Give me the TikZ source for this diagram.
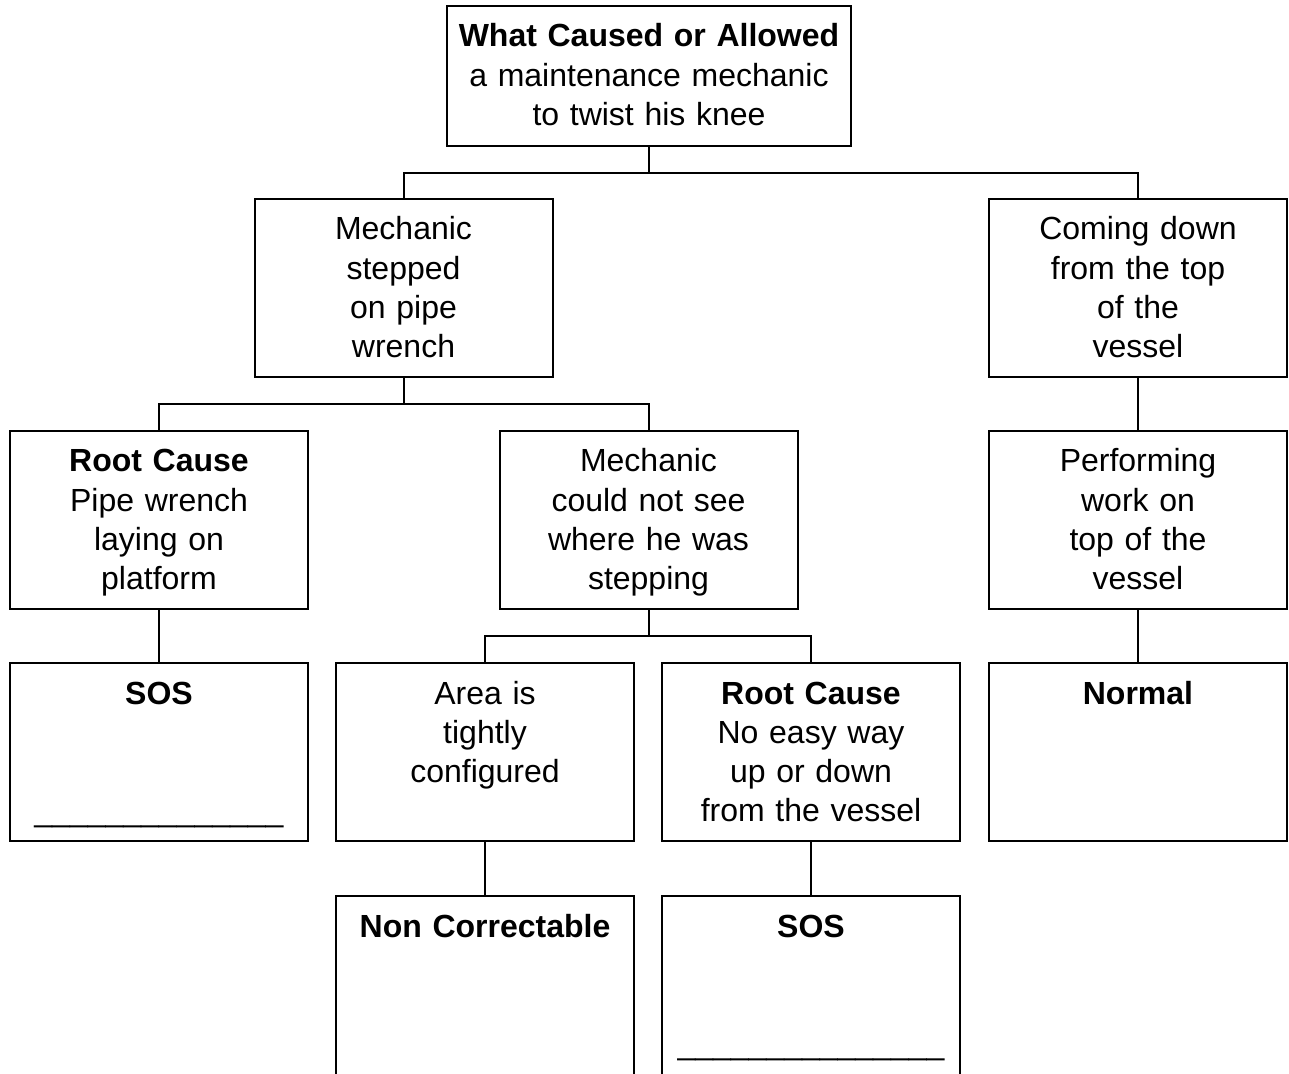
\documentclass[tikz,border=0pt]{standalone}
\usepackage{fontspec}
\setmainfont{Liberation Sans}
\usetikzlibrary{positioning}

\begin{document}
\begin{tikzpicture}[line width=1pt, font=\fontsize{16}{19.6}\selectfont]
    \tikzstyle{box}=[rectangle,draw,anchor=north,outer sep=0pt,inner xsep=4.5pt,inner ysep=6.8pt,text width=140pt,align=center,text height=13.7pt,text depth=61.7pt]
    \tikzstyle{topbox}=[box,text width=193pt,text depth=42.7pt]
    \tikzstyle{openbox}=[box,text depth=90pt]
    \useasboundingbox (0,0) rectangle (644.5pt,-537pt);
    \node[topbox] (knee) at (324.5pt,-3pt) {\textbf{What Caused or Allowed}\\a maintenance mechanic\\to twist his knee};
    \node[box] (stepped) at (201.75pt,-99.5pt) {Mechanic\\stepped\\on pipe\\wrench};
    \node[box] (coming) at (569pt,-99.5pt) {Coming down\\from the top\\of the\\vessel};
    \node[box] (pipe) at (79.5pt,-215.5pt) {\textbf{Root Cause}\\Pipe wrench\\laying on\\platform};
    \node[box] (notsee) at (324.25pt,-215.5pt) {Mechanic\\could not see\\where he was\\stepping};
    \node[box,below=27pt of coming] (working) {Performing\\work on\\top of the\\vessel};
    \node[box,below=27pt of pipe] (sosA) {\textbf{SOS}\\ \mbox{}\\ \mbox{}\\ \_\_\_\_\_\_\_\_\_\_\_\_\_\_};
    \node[box,right=14pt of sosA] (tight) {Area is\\tightly\\configured};
    \node[box,right=14pt of tight] (noway) {\textbf{Root Cause}\\No easy way\\up or down\\from the vessel};
    \node[box,below=27pt of working] (normal) {\textbf{Normal}};
    \node[openbox,below=27.5pt of tight] (noncorr) {\textbf{Non Correctable}};
    \node[openbox,below=27.5pt of noway] (sosB) {\textbf{SOS}\\ \mbox{}\\ \mbox{}\\ \_\_\_\_\_\_\_\_\_\_\_\_\_\_\_};
    \draw (knee.south) -- ++(0,-13.5pt) -| (stepped.north);
    \draw (knee.south) -- ++(0,-13.5pt) -| (coming.north);
    \draw (stepped.south) -- ++(0,-13.5pt) -| (pipe.north);
    \draw (stepped.south) -- ++(0,-13.5pt) -| (notsee.north);
    \draw (notsee.south) -- ++(0,-13.5pt) -| (tight.north);
    \draw (notsee.south) -- ++(0,-13.5pt) -| (noway.north);
    \draw (coming) -- (working);
    \draw (working) -- (normal);
    \draw (pipe) -- (sosA);
    \draw (tight) -- (noncorr);
    \draw (noway) -- (sosB);
\end{tikzpicture}
\end{document}
